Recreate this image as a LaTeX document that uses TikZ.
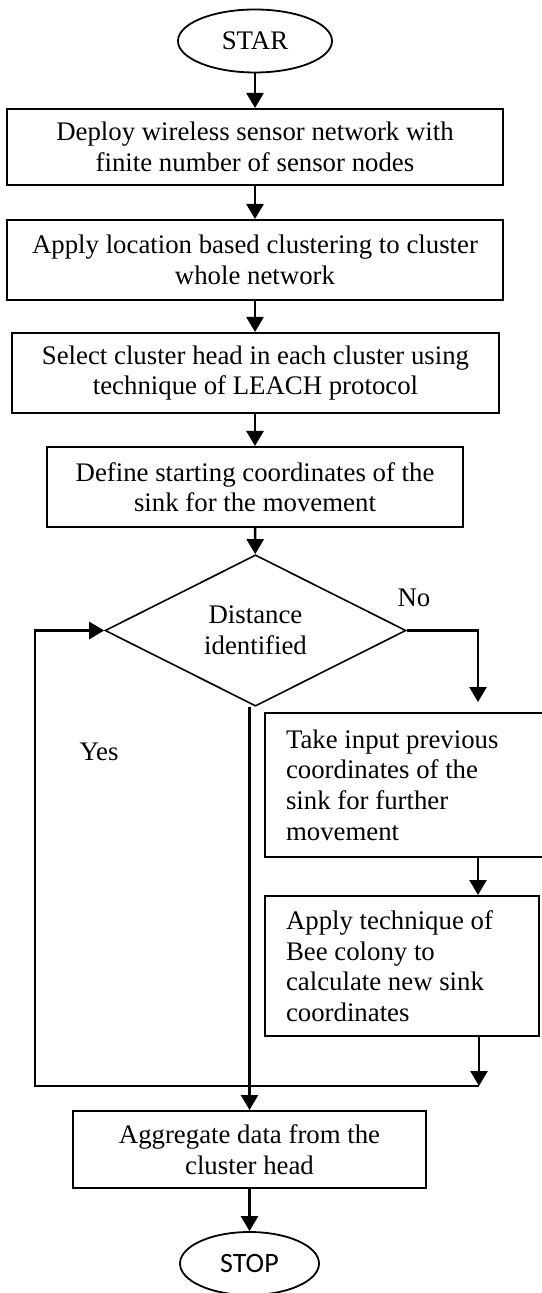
\documentclass[tikz,border=0pt]{standalone}
\usepackage{fontspec}
\setmainfont{Liberation Serif}
\newfontfamily\stopfont{Carlito}
\usetikzlibrary{shapes.geometric,arrows.meta}
\newcommand\flowfont{\fontsize{13.4}{15.3}\selectfont}

\tikzset{
  procbox/.style={draw,line width=1pt,rectangle,inner sep=0pt,align=center},
  sidebox/.style={draw,line width=1pt,rectangle,inner xsep=10.5pt,inner ysep=0pt,align=flush left},
  term/.style={draw,line width=0.9pt,ellipse,inner sep=0pt},
  decide/.style={draw,line width=0.8pt,diamond,inner sep=0pt,align=center},
  flow/.style={line width=1.3pt,-{Triangle[length=7.5pt,width=8.5pt]}},
  link/.style={line width=1.3pt}
}

\begin{document}
\begin{tikzpicture}[x=0.5pt,y=-0.5pt,font=\flowfont]
  \useasboundingbox (0,0) rectangle (541,1293);
  % ----- main column -----
  \node[term,minimum width=77pt,minimum height=31.5pt] (star) at (255,41){STAR};
  \node[procbox,minimum width=248pt,minimum height=38pt] (deploy) at (255,147)
    {Deploy wireless sensor network with\\finite number of sensor nodes};
  \node[procbox,minimum width=248pt,minimum height=40pt] (cluster) at (255,260)
    {Apply location based clustering to cluster\\whole network};
  \node[procbox,minimum width=243.5pt,minimum height=40pt] (head) at (255.5,373)
    {Select cluster head in each cluster using\\technique of LEACH protocol};
  \node[procbox,minimum width=208pt,minimum height=40pt] (start) at (255,487)
    {Define starting coordinates of the\\sink for the movement};
  \node[decide,minimum width=150.5pt,minimum height=72.5pt] (dist) at (255.5,630.5)
    {Distance\\identified};
  % ----- side branch -----
  \node[sidebox,text width=118pt,minimum height=72pt] (prev) at (404,785)
    {Take input previous\\coordinates of the\\sink for further\\movement};
  \node[sidebox,text width=116pt,minimum height=70pt] (bee) at (402,966)
    {Apply technique of\\Bee colony to\\calculate new sink\\coordinates};
  % ----- end -----
  \node[procbox,minimum width=176.5pt,minimum height=38.5pt] (aggr) at (249.5,1149.5)
    {Aggregate data from the\\cluster head};
  \node[term,minimum width=69.5pt,minimum height=31.5pt,font=\stopfont\fontsize{14}{16}\selectfont] (stop) at (249.5,1263.5){STOP};
  % labels
  \node (nolbl) at (414,598){No};
  \node (yeslbl) at (99,752){Yes};
  % joints
  \coordinate (nojoin) at (478,630.5);
  \coordinate (loopin) at (479,1086);
  \coordinate (loopcorner) at (35,1086);
  % arrows
  \draw[flow] (star) -- (deploy);
  \draw[flow] (deploy) -- (cluster);
  \draw[flow] (cluster) -- (cluster |- head.north);
  \draw[flow] (head.south -| start) -- (start);
  \draw[flow] (start) -- (dist);
  \draw[flow,shorten >=5pt] (dist.east) -- (nojoin) -- (nojoin |- prev.north);
  \draw[flow] (nojoin |- prev.south) -- (nojoin |- bee.north);
  \draw[flow] (loopin |- bee.south) -- (loopin);
  \draw[flow] (loopin) -- (loopcorner) |- (dist.west);
  \draw[flow] (aggr.north |- dist.south) -- (aggr.north);
  \draw[flow] (aggr) -- (stop);
\end{tikzpicture}
\end{document}
